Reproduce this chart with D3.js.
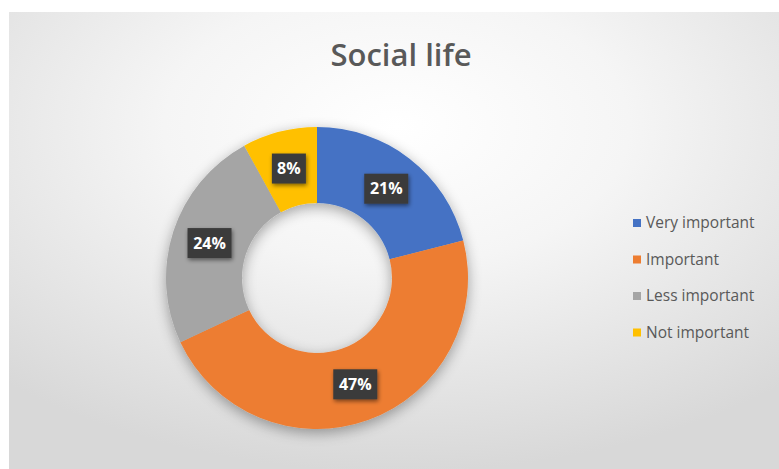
<!DOCTYPE html>
<html><head><meta charset="utf-8">
<script src="https://cdn.jsdelivr.net/npm/d3@7"></script>
<style>html,body{margin:0;padding:0;background:#fff;}svg{display:block;}</style>
</head><body>
<svg id="chart" width="779" height="469"></svg>
<script>
const title = "Social life";
const categories = ["Very important", "Important", "Less important", "Not important"];
const values = [21, 47, 24, 8];
const colors = ["#4472C4", "#ED7D31", "#A5A5A5", "#FFC000"];

const svg = d3.select("#chart");
const defs = svg.append("defs");

const bg = defs.append("radialGradient").attr("id", "bg")
  .attr("cx", "50%").attr("cy", "25%").attr("r", "75%");
bg.append("stop").attr("offset", "0%").attr("stop-color", "#ffffff");
bg.append("stop").attr("offset", "40%").attr("stop-color", "#f5f5f5");
bg.append("stop").attr("offset", "100%").attr("stop-color", "#d8d8d8");

const sh = defs.append("filter").attr("id", "shadow").attr("x", "-30%").attr("y", "-30%").attr("width", "160%").attr("height", "160%");
sh.append("feGaussianBlur").attr("in", "SourceAlpha").attr("stdDeviation", 7);
sh.append("feOffset").attr("dx", 0).attr("dy", 4).attr("result", "b");
sh.append("feComponentTransfer").append("feFuncA").attr("type", "linear").attr("slope", 0.35);
const m = sh.append("feMerge");
m.append("feMergeNode");
m.append("feMergeNode").attr("in", "SourceGraphic");

const lsh = defs.append("filter").attr("id", "lshadow").attr("x", "-30%").attr("y", "-30%").attr("width", "160%").attr("height", "160%");
lsh.append("feGaussianBlur").attr("in", "SourceAlpha").attr("stdDeviation", 2);
lsh.append("feOffset").attr("dx", 1).attr("dy", 2);
lsh.append("feComponentTransfer").append("feFuncA").attr("type", "linear").attr("slope", 0.5);
const m2 = lsh.append("feMerge");
m2.append("feMergeNode");
m2.append("feMergeNode").attr("in", "SourceGraphic");

svg.append("rect").attr("x", 9).attr("y", 12).attr("width", 775).attr("height", 460)
  .attr("fill", "url(#bg)");

svg.append("text").attr("x", 401).attr("y", 66).attr("text-anchor", "middle")
  .attr("font-family", "'Open Sans', Lato, sans-serif").attr("font-weight", 600)
  .attr("font-size", 31).attr("fill", "#595959").text(title);

const cx = 317, cy = 278, rO = 151, rI = 75;
const pie = d3.pie().sort(null).value(d => d)(values);
const arc = d3.arc().innerRadius(rI).outerRadius(rO);
const g = svg.append("g").attr("transform", `translate(${cx},${cy})`);
g.append("g").attr("filter", "url(#shadow)")
  .selectAll("path").data(pie).join("path")
  .attr("d", arc).attr("fill", (d, i) => colors[i])
  .attr("stroke", "none");

const labelArc = d3.arc().innerRadius((rI + rO) / 2).outerRadius((rI + rO) / 2);
const lg = g.selectAll("g.lbl").data(pie).join("g").attr("class", "lbl")
  .attr("transform", d => `translate(${labelArc.centroid(d)})`);
lg.append("rect").attr("x", d => d.value < 10 ? -17 : -22).attr("y", -15)
  .attr("width", d => d.value < 10 ? 34 : 44).attr("height", 30)
  .attr("fill", "#3a3a3a").attr("filter", "url(#lshadow)");
lg.append("text").attr("text-anchor", "middle").attr("dy", "0.36em")
  .attr("font-family", "'Open Sans', Lato, sans-serif").attr("font-weight", 700)
  .attr("font-size", 16).attr("fill", "#ffffff").text(d => d.value + "%");

const leg = svg.append("g");
const items = leg.selectAll("g").data(categories).join("g")
  .attr("transform", (d, i) => `translate(637, ${223 + i * 36.5})`);
items.append("rect").attr("x", -4).attr("y", -4).attr("width", 8).attr("height", 8)
  .attr("fill", (d, i) => colors[i]);
items.append("text").attr("x", 9).attr("dy", "0.35em")
  .attr("font-family", "'Open Sans', Lato, sans-serif").attr("font-size", 15.5)
  .attr("fill", "#595959").text(d => d);
</script>
</body></html>
